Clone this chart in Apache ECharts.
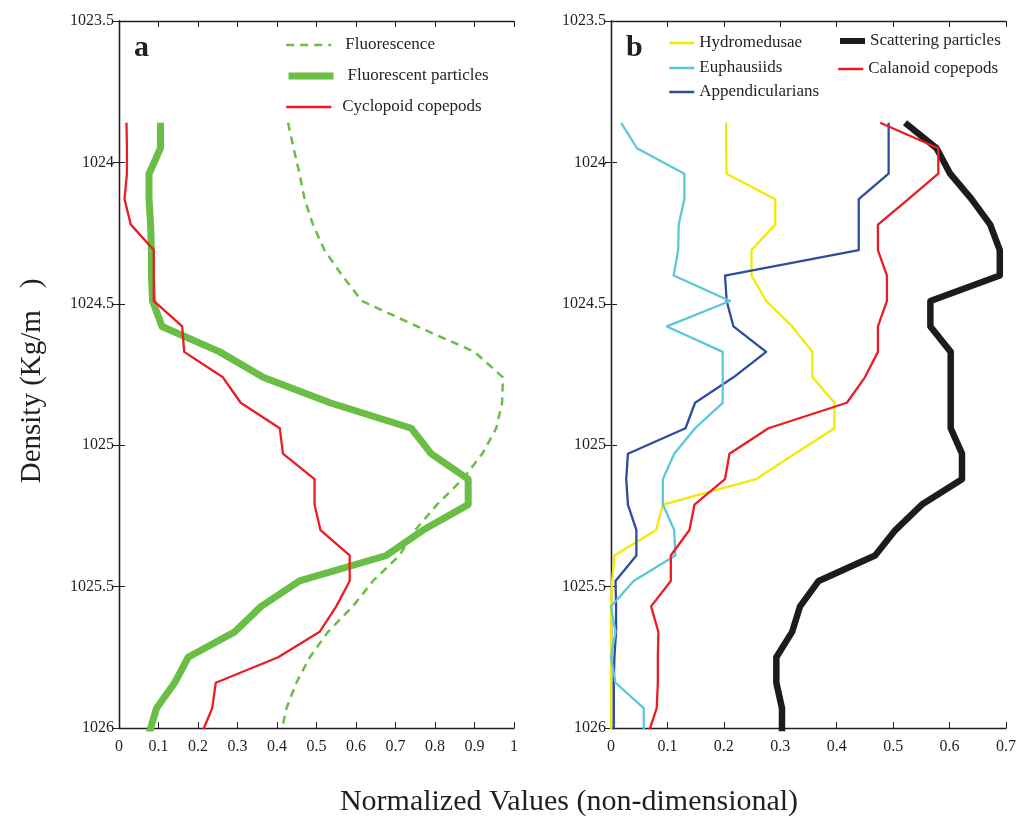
<!DOCTYPE html>
<html>
<head>
<meta charset="utf-8">
<script src="https://cdn.jsdelivr.net/npm/echarts@6/dist/echarts.min.js"></script>
<style>
  html, body { margin: 0; padding: 0; background: #ffffff; }
  #chart { width: 1020px; height: 820px; }
</style>
</head>
<body>
<div id="chart"></div>
<script>
// Density levels (kg/m^3) at which each profile was sampled
const density = [1023.86, 1023.95, 1024.04, 1024.13, 1024.22, 1024.31, 1024.40, 1024.49,
  1024.58, 1024.67, 1024.76, 1024.85, 1024.94, 1025.03, 1025.12, 1025.21, 1025.30,
  1025.39, 1025.48, 1025.57, 1025.66, 1025.75, 1025.84, 1025.93, 1026.02];

// Panel a: normalized profiles
const fluorescence = [0.428, 0.442, 0.457, 0.470, 0.491, 0.520, 0.565, 0.615, 0.755, 0.900,
  0.972, 0.970, 0.955, 0.920, 0.870, 0.805, 0.750, 0.710, 0.643, 0.592, 0.529, 0.483,
  0.449, 0.424, 0.410];
const fluorescentParticles = [0.105, 0.105, 0.076, 0.076, 0.080, 0.082, 0.082, 0.085, 0.109,
  0.255, 0.365, 0.534, 0.740, 0.790, 0.884, 0.884, 0.770, 0.677, 0.457, 0.360, 0.293,
  0.175, 0.141, 0.095, 0.076];
const cyclopoidCopepods = [0.019, 0.020, 0.020, 0.014, 0.030, 0.088, 0.088, 0.088, 0.160,
  0.165, 0.263, 0.308, 0.407, 0.415, 0.495, 0.495, 0.510, 0.584, 0.584, 0.550, 0.508,
  0.403, 0.245, 0.236, 0.209];

// Panel b: normalized profiles
const hydromedusae = [0.204, 0.204, 0.205, 0.291, 0.291, 0.249, 0.249, 0.275, 0.321, 0.357,
  0.357, 0.396, 0.396, 0.326, 0.257, 0.092, 0.080, 0.006, 0.002, 0.000, 0.000, 0.000,
  0.000, 0.000, 0.000];
const euphausiids = [0.018, 0.046, 0.130, 0.130, 0.120, 0.119, 0.111, 0.211, 0.099, 0.198,
  0.198, 0.198, 0.149, 0.112, 0.092, 0.092, 0.112, 0.114, 0.040, 0.000, 0.008, 0.000,
  0.008, 0.058, 0.058];
const appendicularians = [0.492, 0.492, 0.492, 0.439, 0.439, 0.439, 0.202, 0.205, 0.217,
  0.275, 0.217, 0.149, 0.132, 0.030, 0.027, 0.030, 0.045, 0.045, 0.008, 0.009, 0.009,
  0.006, 0.005, 0.005, 0.005];
const scatteringParticles = [0.521, 0.577, 0.601, 0.639, 0.672, 0.689, 0.689, 0.566, 0.566,
  0.602, 0.602, 0.602, 0.602, 0.622, 0.622, 0.551, 0.504, 0.468, 0.368, 0.335, 0.321,
  0.293, 0.293, 0.303, 0.303];
const calanoidCopepods = [0.477, 0.580, 0.580, 0.527, 0.473, 0.473, 0.489, 0.489, 0.473,
  0.473, 0.450, 0.418, 0.279, 0.210, 0.202, 0.148, 0.139, 0.106, 0.106, 0.071, 0.084,
  0.083, 0.083, 0.081, 0.066];

const FONT = 'Liberation Serif';
const INK = '#231f20';

function profile(values) {
  return values.map((v, i) => [v, density[i]]);
}

function line(name, values, gridIdx, color, width, type) {
  return {
    name: name,
    type: 'line',
    xAxisIndex: gridIdx * 2,
    yAxisIndex: gridIdx * 2,
    data: profile(values),
    symbol: 'none',
    clip: true,
    animation: false,
    lineStyle: { color: color, width: width, type: type || 'solid', join: 'round', cap: 'butt' },
    itemStyle: { color: color },
    emphasis: { disabled: true }
  };
}

const plainNumber = v => String(Math.round(v * 100) / 100);

function xAxes(gridIdx, max) {
  return [
    {
      gridIndex: gridIdx, type: 'value', position: 'bottom', min: 0, max: max, interval: 0.1,
      axisLine: { show: true, lineStyle: { color: INK, width: 1.3 } },
      axisTick: { show: true, inside: true, length: 6, lineStyle: { color: INK } },
      axisLabel: { color: INK, fontFamily: FONT, fontSize: 16, margin: 11, formatter: plainNumber },
      splitLine: { show: false }
    },
    {
      gridIndex: gridIdx, type: 'value', position: 'top', min: 0, max: max, interval: 0.1,
      axisLine: { show: true, lineStyle: { color: INK, width: 1.3 } },
      axisTick: { show: true, inside: true, length: 6, lineStyle: { color: INK } },
      axisLabel: { show: false },
      splitLine: { show: false }
    }
  ];
}

function yAxes(gridIdx) {
  return [
    {
      gridIndex: gridIdx, type: 'value', position: 'left', inverse: true,
      min: 1023.5, max: 1026, interval: 0.5,
      axisLine: { show: true, lineStyle: { color: INK, width: 1.3 } },
      axisTick: { show: true, inside: true, length: 6, lineStyle: { color: INK } },
      axisLabel: { color: INK, fontFamily: FONT, fontSize: 16, margin: 5, formatter: plainNumber },
      splitLine: { show: false }
    },
    {
      gridIndex: gridIdx, type: 'value', position: 'right', inverse: true,
      min: 1023.5, max: 1026, interval: 0.5,
      axisLine: { show: true, lineStyle: { color: INK, width: 1.3 } },
      axisTick: { show: true, inside: true, length: 6, lineStyle: { color: INK } },
      axisLabel: { show: false },
      splitLine: { show: false }
    }
  ];
}

function legendItem(name, left, centerY, iconWidth, lineWidth, textGap) {
  return {
    data: [name],
    left: left,
    top: centerY - 11,
    padding: 0,
    itemWidth: iconWidth,
    itemHeight: 14,
    selectedMode: false,
    lineStyle: { width: lineWidth },
    itemStyle: { opacity: 0, borderWidth: 0 },
    textStyle: {
      fontFamily: FONT, fontSize: 17, color: INK, lineHeight: 22,
      padding: [0, 0, 0, textGap || 0]
    }
  };
}

const chart = echarts.init(document.getElementById('chart'), null, { renderer: 'canvas' });

chart.setOption({
  backgroundColor: '#ffffff',
  animation: false,
  grid: [
    { left: 119, top: 21, width: 395, height: 707 },
    { left: 611, top: 21, width: 395, height: 707 }
  ],
  xAxis: [...xAxes(0, 1), ...xAxes(1, 0.7)],
  yAxis: [...yAxes(0), ...yAxes(1)],
  legend: [
    legendItem('Fluorescence', 285, 45, 45, 2.5, 9),
    legendItem('Fluorescent particles', 285, 76, 45, 7, 9),
    legendItem('Cyclopoid copepods', 285, 107, 45, 2.5, 6),
    legendItem('Hydromedusae', 668, 43, 25, 2.5, 0),
    legendItem('Euphausiids', 668, 68, 25, 2.5, 0),
    legendItem('Appendicularians', 668, 92, 25, 2.5, 0),
    legendItem('Scattering particles', 837, 41, 25, 6, 0),
    legendItem('Calanoid copepods', 837, 69, 25, 2.5, 0)
  ],
  series: [
    line('Fluorescent particles', fluorescentParticles, 0, '#6abd45', 7),
    line('Fluorescence', fluorescence, 0, '#6abd45', 2.5, [8, 6]),
    line('Cyclopoid copepods', cyclopoidCopepods, 0, '#ec1c24', 2.3),
    line('Scattering particles', scatteringParticles, 1, '#1d1b1c', 6.5),
    line('Hydromedusae', hydromedusae, 1, '#f4e900', 2.3),
    line('Appendicularians', appendicularians, 1, '#2e4d9f', 2.3),
    line('Euphausiids', euphausiids, 1, '#5cc7db', 2.3),
    line('Calanoid copepods', calanoidCopepods, 1, '#ec1c24', 2.3)
  ],
  graphic: [
    {
      type: 'text', left: 134, top: 33,
      style: { text: 'a', fontFamily: FONT, fontSize: 30, fontWeight: 'bold', fill: INK }
    },
    {
      type: 'text', left: 626, top: 33,
      style: { text: 'b', fontFamily: FONT, fontSize: 30, fontWeight: 'bold', fill: INK }
    },
    {
      type: 'text', x: 32, y: 381, rotation: Math.PI / 2,
      style: {
        text: 'Density (Kg/m   )', fontFamily: FONT, fontSize: 29, fill: INK,
        textAlign: 'center', textVerticalAlign: 'middle'
      }
    },
    {
      type: 'text', x: 569, y: 802,
      style: {
        text: 'Normalized Values (non-dimensional)', fontFamily: FONT, fontSize: 30, fill: INK,
        textAlign: 'center', textVerticalAlign: 'middle'
      }
    }
  ]
});
</script>
</body>
</html>
